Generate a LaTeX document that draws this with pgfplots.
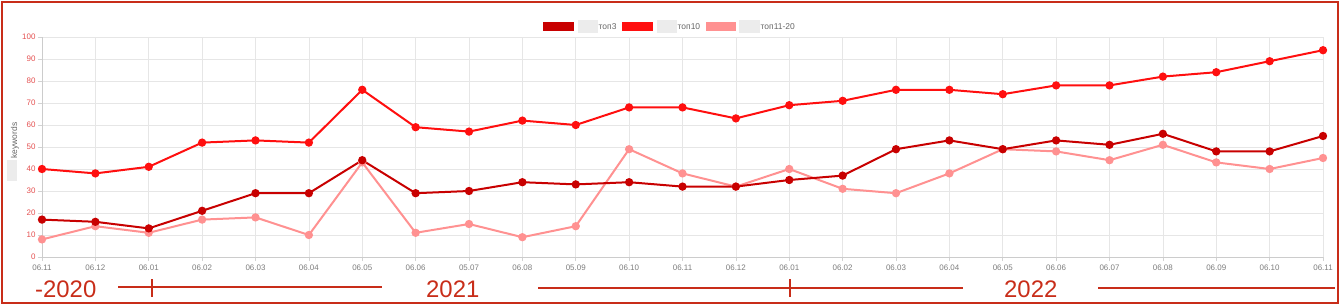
\documentclass[border=0pt]{standalone}
\usepackage{pgfplots}
\pgfplotsset{compat=1.18}
\usepackage{fontspec}
\setmainfont{Liberation Sans}
\definecolor{cTop3}{RGB}{200,0,0}
\definecolor{cTop10}{RGB}{255,15,15}
\definecolor{cTop20}{RGB}{255,145,145}
\definecolor{cFrame}{RGB}{200,45,25}
\definecolor{cYtick}{RGB}{228,80,80}
\definecolor{cXtick}{RGB}{125,125,125}
\definecolor{cGrid}{RGB}{230,230,230}
\definecolor{cBlur}{RGB}{236,236,236}
\begin{document}
\begin{tikzpicture}
\path (0,0) rectangle (1340bp,-305bp);
\begin{axis}[
  at={(42bp,-257bp)}, anchor=south west,
  scale only axis, width=1281bp, height=220bp,
  xmin=0, xmax=24, ymin=0, ymax=100,
  clip=false,
  xtick={0,...,24},
  xticklabels={06.11,06.12,06.01,06.02,06.03,06.04,06.05,06.06,05.07,06.08,05.09,06.10,06.11,06.12,06.01,06.02,06.03,06.04,06.05,06.06,06.07,06.08,06.09,06.10,06.11},
  ytick={0,10,...,100},
  /pgf/number format/assume math mode=true,
  xticklabel style={font=\fontsize{8}{9}\selectfont, text=cXtick, yshift=-0.5bp},
  yticklabel style={font=\fontsize{8}{9}\selectfont, text=cYtick, xshift=1bp},
  grid=major, major grid style={cGrid, line width=0.7bp},
  axis line style={draw=none},
  axis x line*=bottom, axis y line*=left,
  tick align=outside, major tick length=4bp,
  tick style={cGrid!80!gray, line width=0.7bp},
  every axis plot/.append style={line width=2bp, mark=*, mark size=3.1bp, mark options={solid}},
]
\draw[cGrid!75!gray, line width=0.8bp] (axis cs:0,0) -- (axis cs:24,0);
\draw[cGrid!75!gray, line width=0.8bp] (axis cs:0,0) -- (axis cs:0,100);
\addplot[cTop20, mark options={fill=cTop20}] coordinates {
(0,8)(1,14)(2,11)(3,17)(4,18)(5,10)(6,43)(7,11)(8,15)(9,9)(10,14)(11,49)(12,38)(13,32)(14,40)(15,31)(16,29)(17,38)(18,49)(19,48)(20,44)(21,51)(22,43)(23,40)(24,45)};
\addplot[cTop10, mark options={fill=cTop10}] coordinates {
(0,40)(1,38)(2,41)(3,52)(4,53)(5,52)(6,76)(7,59)(8,57)(9,62)(10,60)(11,68)(12,68)(13,63)(14,69)(15,71)(16,76)(17,76)(18,74)(19,78)(20,78)(21,82)(22,84)(23,89)(24,94)};
\addplot[cTop3, mark options={fill=cTop3}] coordinates {
(0,17)(1,16)(2,13)(3,21)(4,29)(5,29)(6,44)(7,29)(8,30)(9,34)(10,33)(11,34)(12,32)(13,32)(14,35)(15,37)(16,49)(17,53)(18,49)(19,53)(20,51)(21,56)(22,48)(23,48)(24,55)};
\end{axis}
\begin{scope}[x=1bp,y=-1bp]
% frame
\draw[cFrame, line width=2bp] (2,2) rectangle (1338,303);
% legend
\fill[cTop3] (543,22) rectangle (574,31);
\fill[cBlur] (578,20) rectangle (598,33);
\node[anchor=west, inner sep=0pt, text=black!60, font=\fontsize{8.5}{9}\selectfont] at (598.5,26.5) {топ3};
\fill[cTop10] (622,22) rectangle (653,31);
\fill[cBlur] (657,20) rectangle (677,33);
\node[anchor=west, inner sep=0pt, text=black!60, font=\fontsize{8.5}{9}\selectfont] at (677.5,26.5) {топ10};
\fill[cTop20] (706,22) rectangle (736,31);
\fill[cBlur] (739,20) rectangle (760,33);
\node[anchor=west, inner sep=0pt, text=black!60, font=\fontsize{8.5}{9}\selectfont] at (760.5,26.5) {топ11-20};
% y label
\fill[cBlur] (7,160) rectangle (17,181);
\node[rotate=90, anchor=west, inner sep=0pt, text=black!60, font=\fontsize{8.5}{9}\selectfont] at (15,158.5) {keywords};
% year annotations
\node[anchor=base west, inner sep=0pt, text=cFrame, font=\fontsize{24}{26}\selectfont] at (35,297) {-2020};
\draw[cFrame, line width=1.4bp] (118,287) -- (382,287);
\draw[cFrame, line width=1.4bp] (152,279) -- (152,297);
\node[anchor=base west, inner sep=0pt, text=cFrame, font=\fontsize{24}{26}\selectfont] at (426,297) {2021};
\draw[cFrame, line width=1.4bp] (538,288) -- (963,288);
\draw[cFrame, line width=1.4bp] (790,279) -- (790,297);
\node[anchor=base west, inner sep=0pt, text=cFrame, font=\fontsize{24}{26}\selectfont] at (1004,297) {2022};
\draw[cFrame, line width=1.4bp] (1098,288) -- (1335,288);
\end{scope}
\end{tikzpicture}
\end{document}
